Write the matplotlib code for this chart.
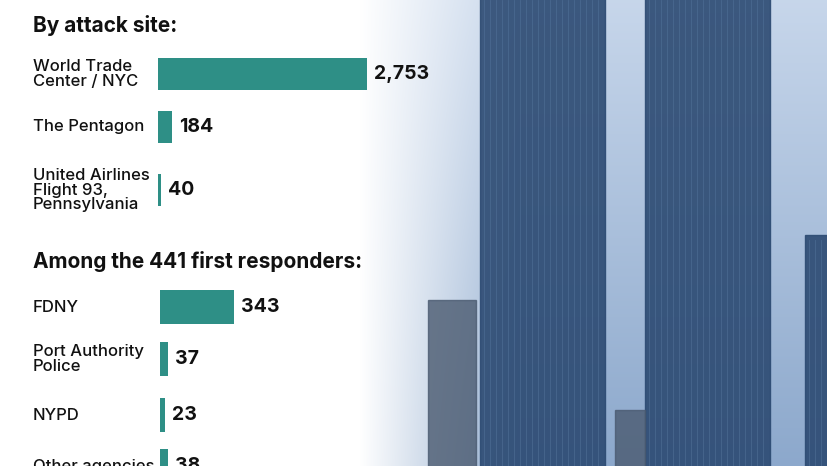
import numpy as np
import matplotlib.pyplot as plt
from matplotlib.patches import Rectangle

site_labels = ["World Trade\nCenter / NYC", "The Pentagon", "United Airlines\nFlight 93,\nPennsylvania"]
site_values = [2753, 184, 40]
resp_labels = ["FDNY", "Port Authority\nPolice", "NYPD", "Other agencies"]
resp_values = [343, 37, 23, 38]

W, H = 828, 466
TEAL = "#2e8f86"
plt.rcParams["font.family"] = ["Inter", "DejaVu Sans"]

fig = plt.figure(figsize=(W / 100, H / 100), dpi=100)

# background: photo-like blue area on the right
bg = fig.add_axes([0, 0, 1, 1])
bg.set_xlim(0, W)
bg.set_ylim(H, 0)
bg.axis("off")
xs = np.linspace(0, 1, W)
alpha = np.clip((xs * W - 360) / 160, 0, 1)
top = np.array([0.78, 0.84, 0.92])
bot = np.array([0.55, 0.66, 0.80])
ys = np.linspace(0, 1, H)[:, None, None]
col = top * (1 - ys) + bot * ys
img = np.ones((H, W, 3)) * (1 - alpha[None, :, None]) + col * alpha[None, :, None]
bg.imshow(img, extent=(0, W, H, 0), aspect="auto")
for x0, w in [(480, 125), (645, 125), (805, 23)]:
    bg.add_patch(Rectangle((x0, -5 if x0 < 800 else 235), w, 480, color="#2c4a72", alpha=0.9))
    for xx in range(x0 + 4, x0 + w - 2, 6):
        bg.plot([xx, xx], [0 if x0 < 800 else 240, H], color="#4f6f96", lw=0.6, alpha=0.7)
bg.add_patch(Rectangle((428, 300), 48, 170, color="#4a5a70", alpha=0.8))
bg.add_patch(Rectangle((615, 410), 30, 60, color="#4a5a70", alpha=0.8))


def section(labels, values, x0, px, row_y, bar_h, title, title_y):
    bg.text(33, title_y, title, fontsize=15, fontweight="bold", va="center", color="#111")
    vmax = max(values)
    ax = fig.add_axes([x0 / W, 0, 0.6, 1])
    width_px = 0.6 * W
    ax.set_xlim(0, vmax * width_px / px)
    ax.set_ylim(H, 0)
    ax.axis("off")
    ax.barh(row_y, values, height=bar_h, color=TEAL)
    for y, v, lab in zip(row_y, values, labels):
        ax.text(v + vmax * 7 / px, y, f"{v:,}", fontsize=14, fontweight="bold", va="center", color="#111")
        bg.text(33, y, lab, fontsize=12, fontweight="medium", va="center", color="#111", linespacing=0.95)


section(site_labels, site_values, 158, 209, [74, 127, 190], 32, "By attack site:", 26)
section(resp_labels, resp_values, 160, 74, [307, 359, 415, 466], 34, "Among the 441 first responders:", 262)

fig.savefig("out.png", dpi=100)
